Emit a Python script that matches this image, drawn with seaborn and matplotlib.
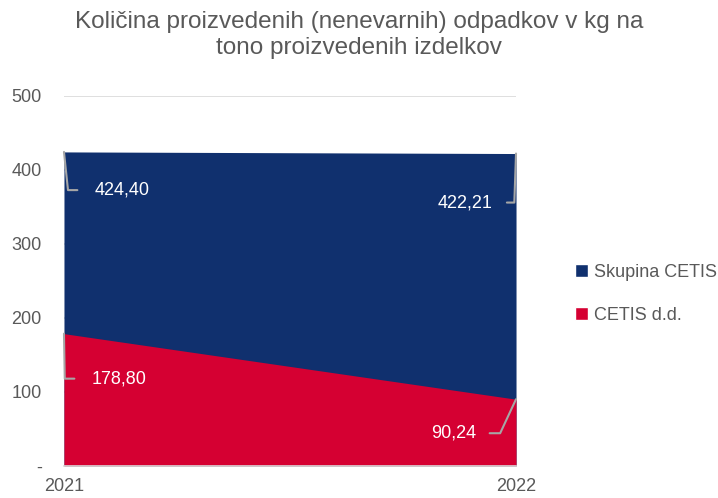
import seaborn as sns
import matplotlib.pyplot as plt
import pandas as pd
from matplotlib.patches import Patch

years = [2021, 2022]
skupina = [424.40, 422.21]
cetis_dd = [178.80, 90.24]
series_names = ['Skupina CETIS', 'CETIS d.d.']
y_ticks = [0, 100, 200, 300, 400, 500]
y_tick_labels = ['-', '100', '200', '300', '400', '500']

blue = '#10306E'
red = '#D50032'
grey_text = '#595959'

sns.set_theme(style='white')
plt.rcParams['font.family'] = ['Liberation Sans', 'DejaVu Sans']

df = pd.DataFrame({'year': years, 'Skupina CETIS': skupina, 'CETIS d.d.': cetis_dd})

fig = plt.figure(figsize=(7.18, 4.98), dpi=100)
ax = fig.add_axes([0.0891, 0.0643, 0.6296, 0.7430])

for name, col in zip(series_names, [blue, red]):
    sns.lineplot(data=df, x='year', y=name, color=col, linewidth=0, ax=ax)
    ax.fill_between(df['year'], 0, df[name], color=col, linewidth=0, zorder=2)

ax.set_xlim(years[0], years[-1])
ax.set_ylim(0, 500)
ax.set_yticks(y_ticks)
ax.set_yticklabels(y_tick_labels)
ax.set_xticks(years)
ax.set_xticklabels([str(y) for y in years])
ax.tick_params(axis='y', length=0, pad=16, labelsize=13, labelcolor=grey_text)
ax.tick_params(axis='x', length=0, pad=9, labelsize=13, labelcolor=grey_text)
ax.set_xlabel('')
ax.set_ylabel('')
ax.yaxis.grid(True, color='#D9D9D9', linewidth=1.2, zorder=0)
ax.set_axisbelow(True)
for s in ['top', 'left', 'right']:
    ax.spines[s].set_visible(False)
ax.spines['bottom'].set_color('#D9D9D9')
ax.spines['bottom'].set_linewidth(1.2)
ax.spines['bottom'].set_zorder(3)

def fmt(v):
    return f'{v:.2f}'.replace('.', ',')

# data labels with leader lines: (x, value, offset pts, text side, shrink, angle)
labels = [
    (years[0], skupina[0], (41.8, -27.5), 0, 10, 96),
    (years[1], skupina[1], (-36.7, -35.3), 1, 8, 88),
    (years[0], cetis_dd[0], (39.6, -32.4), 0, 10, 91),
    (years[1], cetis_dd[1], (-44.6, -24.5), 1, 7, 65),
]
for x, v, off, side, shr, ang in labels:
    ax.annotate(fmt(v), xy=(x, v), xytext=off, textcoords='offset points',
                ha='center', va='center', fontsize=13, color='white', zorder=5,
                annotation_clip=False,
                arrowprops=dict(arrowstyle='-', color='#A6A6A6', lw=1.5,
                                relpos=(side, 0.5), shrinkA=shr, shrinkB=0,
                                connectionstyle=f'angle,angleA=0,angleB={ang},rad=0'))

fig.text(0.5, 0.977, 'Količina proizvedenih (nenevarnih) odpadkov v kg na\ntono proizvedenih izdelkov',
         ha='center', va='top', fontsize=17.5, color=grey_text, linespacing=1.22)

handles = [Patch(facecolor=blue, label=series_names[0]), Patch(facecolor=red, label=series_names[1])]
fig.legend(handles=handles, loc='center left', bbox_to_anchor=(0.778, 0.41), frameon=False,
           fontsize=13, labelcolor=grey_text, handlelength=0.75, handleheight=0.75,
           handletextpad=0.3, labelspacing=1.45)

fig.savefig('out.png', dpi=100)
